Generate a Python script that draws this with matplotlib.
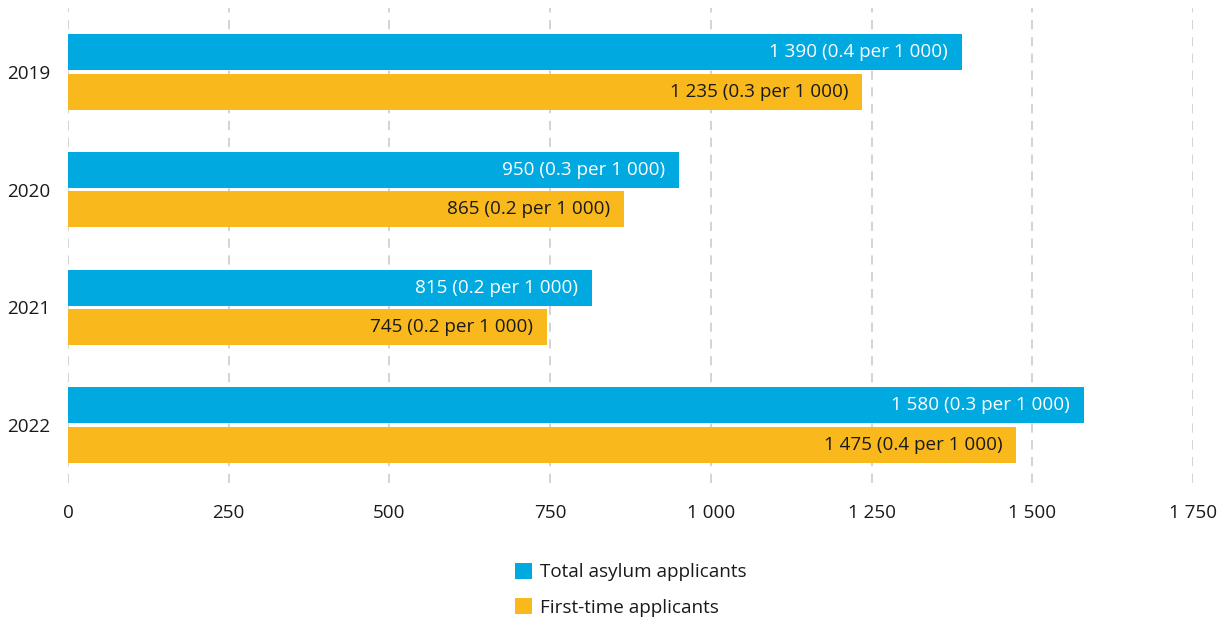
import matplotlib
matplotlib.use("Agg")
import matplotlib.pyplot as plt
from matplotlib.patches import Patch
import numpy as np

years = ["2019", "2020", "2021", "2022"]
total = [1390, 950, 815, 1580]
first = [1235, 865, 745, 1475]
total_labels = ["1 390 (0.4 per 1 000)", "950 (0.3 per 1 000)", "815 (0.2 per 1 000)", "1 580 (0.3 per 1 000)"]
first_labels = ["1 235 (0.3 per 1 000)", "865 (0.2 per 1 000)", "745 (0.2 per 1 000)", "1 475 (0.4 per 1 000)"]
xticks = [0, 250, 500, 750, 1000, 1250, 1500, 1750]
xtick_labels = ["0", "250", "500", "750", "1 000", "1 250", "1 500", "1 750"]

BLUE = "#00A9E0"
ORANGE = "#F9B81B"
TXT = "#1a1a1a"

plt.rcParams['font.family'] = ['Open Sans', 'DejaVu Sans']
FS = 13.6

fig = plt.figure(figsize=(12.24, 6.17), dpi=100)
ax = fig.add_axes([68/1224, 1-483/617, (1193-68)/1224, (483-8)/617])

y = np.arange(len(years))
h = 0.306
off = 0.168
b1 = ax.barh(y - off, total, height=h, color=BLUE, zorder=3)
b2 = ax.barh(y + off, first, height=h, color=ORANGE, zorder=3)

for rect, lab in zip(b1, total_labels):
    ax.annotate(lab, (rect.get_width(), rect.get_y() + rect.get_height()/2),
                xytext=(-10, 0), textcoords="offset points", ha="right", va="center",
                color="white", fontsize=FS, zorder=4)
for rect, lab in zip(b2, first_labels):
    ax.annotate(lab, (rect.get_width(), rect.get_y() + rect.get_height()/2),
                xytext=(-10, 0), textcoords="offset points", ha="right", va="center",
                color=TXT, fontsize=FS, zorder=4)

ax.set_xlim(0, 1750)
ax.set_ylim(3.493, -0.544)
ax.set_xticks(xticks)
ax.set_xticklabels(xtick_labels)
ax.set_yticks(y)
ax.set_yticklabels(years)
ax.tick_params(axis="both", length=0, labelsize=FS, colors=TXT)
ax.tick_params(axis="x", pad=15)
ax.tick_params(axis="y", pad=13)
for s in ax.spines.values():
    s.set_visible(False)
ax.grid(axis="x", color="#c8c8c8", linestyle=(0, (6, 5)), linewidth=1.1, zorder=0)
ax.grid(axis="y", visible=False)

handles = [Patch(facecolor=BLUE, label="Total asylum applicants"),
           Patch(facecolor=ORANGE, label="First-time applicants")]
fig.legend(handles=handles, loc="upper left", bbox_to_anchor=(498/1224, 1-546/617),
           frameon=False, fontsize=FS, handlelength=0.9, handleheight=0.9,
           handletextpad=0.4, labelspacing=0.9, labelcolor=TXT)

fig.savefig("out.png", dpi=100)
